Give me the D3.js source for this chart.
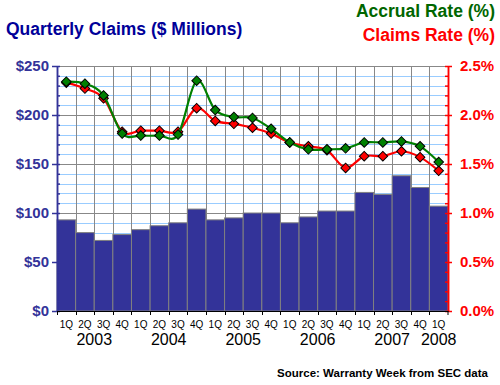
<!DOCTYPE html>
<html>
<head>
<meta charset="utf-8">
<script src="https://cdn.jsdelivr.net/npm/d3@7"></script>
<style>
  body { margin: 0; background: #fff; }
  text { font-family: Arial, "Liberation Sans", sans-serif; }
</style>
</head>
<body>
<div id="chart"></div>
<script>
const quarters = ["1Q","2Q","3Q","4Q","1Q","2Q","3Q","4Q","1Q","2Q","3Q","4Q","1Q","2Q","3Q","4Q","1Q","2Q","3Q","4Q","1Q"];
const years = ["2003","2004","2005","2006","2007","2008"];
const claimsAmount = [93, 80, 72, 78, 83, 87, 90, 104, 93, 95, 100, 100, 90, 96, 102, 102, 121, 119, 138, 126, 107];
const accrualRate = [2.34, 2.32, 2.20, 1.81, 1.79, 1.79, 1.80, 2.35, 2.05, 1.98, 1.97, 1.86, 1.72, 1.65, 1.65, 1.66, 1.72, 1.72, 1.73, 1.68, 1.52];
const claimsRate = [2.33, 2.27, 2.17, 1.83, 1.84, 1.84, 1.83, 2.07, 1.94, 1.91, 1.87, 1.81, 1.72, 1.68, 1.64, 1.46, 1.58, 1.58, 1.63, 1.57, 1.43];
const leftTicks = [0, 50, 100, 150, 200, 250];
const rightTicks = [0, 0.5, 1.0, 1.5, 2.0, 2.5];

const W = 500, H = 385;
const plot = {left: 57, right: 448, top: 66, bottom: 311};

const svg = d3.select("#chart").append("svg")
  .attr("width", W).attr("height", H);

const idx = d3.range(quarters.length);
const x = d3.scaleBand().domain(idx).range([plot.left, plot.right]).padding(0);
const yL = d3.scaleLinear().domain([0, 250]).range([plot.bottom, plot.top]);
const yR = d3.scaleLinear().domain([0, 2.5]).range([plot.bottom, plot.top]);

// grid
const minor = d3.range(0, 251, 10).filter(v => v % 50 !== 0);
svg.append("g").selectAll("line").data(minor).join("line")
  .attr("x1", plot.left).attr("x2", plot.right)
  .attr("y1", d => Math.round(yL(d)) + 0.5).attr("y2", d => Math.round(yL(d)) + 0.5)
  .attr("stroke", "#99ccff");
svg.append("g").selectAll("line").data(leftTicks.slice(1)).join("line")
  .attr("x1", plot.left).attr("x2", plot.right)
  .attr("y1", d => Math.round(yL(d)) + 0.5).attr("y2", d => Math.round(yL(d)) + 0.5)
  .attr("stroke", "#888");
svg.append("g").selectAll("line").data(idx.slice(1)).join("line")
  .attr("x1", d => Math.round(x(d)) + 0.5).attr("x2", d => Math.round(x(d)) + 0.5)
  .attr("y1", plot.top).attr("y2", plot.bottom)
  .attr("stroke", "#888");

// bars
svg.append("g").selectAll("rect").data(claimsAmount).join("rect")
  .attr("x", (d, i) => x(i))
  .attr("y", d => yL(d))
  .attr("width", x.bandwidth())
  .attr("height", d => plot.bottom - yL(d))
  .attr("fill", "#333399")
  .attr("stroke", "#808080")
  .attr("stroke-width", 1);

// left axis
const gl = svg.append("g").attr("transform", `translate(${plot.left},0)`);
gl.call(d3.axisLeft(yL).tickValues(leftTicks).tickFormat(d => "$" + d).tickSize(5).tickSizeOuter(0).tickPadding(3));
gl.append("g").call(d3.axisRight(yL).tickValues(d3.range(0, 251, 10)).tickFormat("").tickSize(3).tickSizeOuter(0));
gl.selectAll("path, line").attr("stroke", "#333399").attr("stroke-width", 1.5);
gl.selectAll("text").attr("fill", "#333399").style("font-size", "15px").style("font-weight", "bold");

// right axis
const gr = svg.append("g").attr("transform", `translate(${plot.right},0)`);
gr.call(d3.axisRight(yR).tickValues(rightTicks).tickFormat(d => d3.format(".1f")(d) + "%").tickSize(4).tickSizeOuter(0).tickPadding(8));
gr.append("g").call(d3.axisLeft(yR).tickValues(d3.range(0, 26).map(v => v / 10)).tickFormat("").tickSize(3).tickSizeOuter(0));
gr.selectAll("path, line").attr("stroke", "#ff0000").attr("stroke-width", 1.5);
gr.selectAll("text").attr("fill", "#ff0000").style("font-size", "15px").style("font-weight", "bold");

// bottom axis
const gb = svg.append("g").attr("transform", `translate(0,${plot.bottom})`);
gb.call(d3.axisBottom(x).tickFormat(i => quarters[i]).tickSize(0).tickSizeOuter(0).tickPadding(10));
gb.select(".domain").attr("stroke", "#000");
gb.selectAll("text").attr("fill", "#000").style("font-size", "10px");
gb.append("g").selectAll("line").data(idx.concat([quarters.length])).join("line")
  .attr("x1", d => d < quarters.length ? Math.round(x(d)) + 0.5 : plot.right)
  .attr("x2", d => d < quarters.length ? Math.round(x(d)) + 0.5 : plot.right)
  .attr("y1", 0).attr("y2", 4).attr("stroke", "#000");

// year labels
svg.append("g").selectAll("text").data(years).join("text")
  .attr("x", (d, j) => {
    const q = idx.filter(i => Math.floor(i / 4) === j);
    return d3.mean(q, i => x(i) + x.bandwidth() / 2);
  })
  .attr("y", 345)
  .attr("text-anchor", "middle")
  .style("font-size", "16px")
  .attr("fill", "#000")
  .text(d => d);

// lines
const smooth = d3.curveCardinal.tension(0);
function series(values, color) {
  const line = d3.line()
    .x((d, i) => x(i) + x.bandwidth() / 2)
    .y(d => yR(d))
    .curve(smooth);
  svg.append("path").datum(values)
    .attr("d", line)
    .attr("fill", "none")
    .attr("stroke", color)
    .attr("stroke-width", 2.2);
  svg.append("g").selectAll("path").data(values).join("path")
    .attr("d", d3.symbol().type(d3.symbolSquare).size(46))
    .attr("transform", (d, i) => `translate(${x(i) + x.bandwidth() / 2},${yR(d)}) rotate(45)`)
    .attr("fill", color)
    .attr("stroke", "#000")
    .attr("stroke-width", 1);
}
series(claimsRate, "#ff0000");
series(accrualRate, "#008000");

// titles
svg.append("text").attr("x", 6).attr("y", 35)
  .style("font-size", "17.5px").style("font-weight", "bold")
  .attr("fill", "#000099").text("Quarterly Claims ($ Millions)");
svg.append("text").attr("x", 495).attr("y", 17).attr("text-anchor", "end")
  .style("font-size", "17.5px").style("font-weight", "bold")
  .attr("fill", "#006600").text("Accrual Rate (%)");
svg.append("text").attr("x", 495).attr("y", 41).attr("text-anchor", "end")
  .style("font-size", "17.5px").style("font-weight", "bold")
  .attr("fill", "#ff0000").text("Claims Rate (%)");
svg.append("text").attr("x", 488).attr("y", 377).attr("text-anchor", "end")
  .style("font-size", "11.5px").style("font-weight", "bold")
  .attr("fill", "#000").text("Source: Warranty Week from SEC data");
</script>
</body>
</html>
